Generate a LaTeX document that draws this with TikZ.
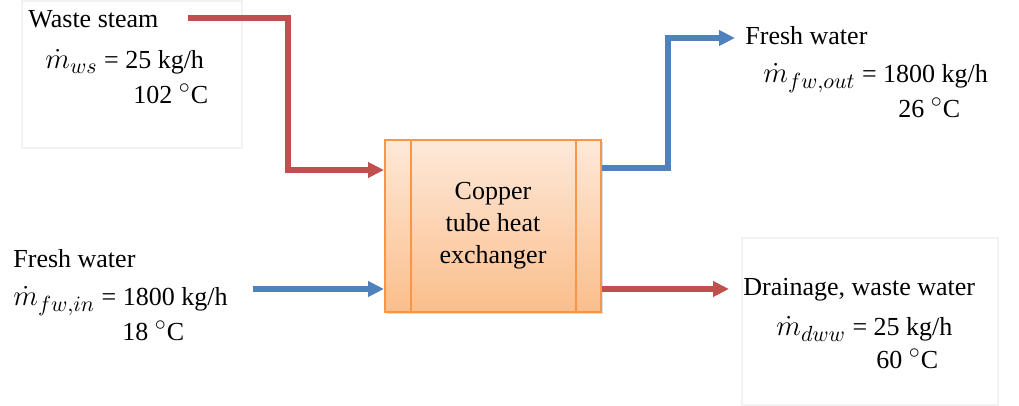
\documentclass[tikz,border=0pt]{standalone}
\usepackage{fontspec}
\setmainfont{Liberation Serif}
\DeclareMathSizes{13}{13.5}{10.5}{8}
\usetikzlibrary{arrows.meta,shadows}
\definecolor{steamred}{HTML}{C0504D}
\definecolor{waterblue}{HTML}{4F81BD}
\definecolor{hxedge}{HTML}{F79646}
\definecolor{hxtop}{HTML}{FDE9DA}
\definecolor{hxbot}{HTML}{FBBE8C}
\definecolor{frame}{HTML}{F2F2F2}
\tikzset{
  pipe/.style={line width=2.6pt,-{Triangle[length=8pt,width=7.5pt]}},
  hot/.style={pipe,draw=steamred},
  cold/.style={pipe,draw=waterblue},
  lbl/.style={anchor=base west,inner sep=0pt,font=\fontsize{13pt}{15pt}\selectfont},
  labelframe/.style={draw=frame,line width=0.6pt},
}
\newcommand{\flowrate}[2]{$\dot{m}_{#1}$ = #2 kg/h}
\begin{document}
\begin{tikzpicture}[x=0.5pt,y=-0.5pt]
\useasboundingbox (0,0) rectangle (1019,406);

% faint frames behind two of the stream labels
\draw[labelframe] (22,1) rectangle (242,148);
\draw[labelframe] (742,238) rectangle (998,405);

% heat exchanger
\node (hx) [draw=hxedge,line width=1pt,top color=hxtop,bottom color=hxbot,
  minimum width=108pt,minimum height=86pt,inner sep=0pt,
  drop shadow={opacity=0.25,shadow xshift=1pt,shadow yshift=-1pt},
  align=center,font=\fontsize{13pt}{16pt}\selectfont]
  at (493,226) {Copper\\tube heat\\exchanger};
\draw[hxedge,line width=1pt] ([xshift=13.5pt]hx.north west) -- ([xshift=13.5pt]hx.south west);
\draw[hxedge,line width=1pt] ([xshift=-13pt]hx.north east) -- ([xshift=-13pt]hx.south east);

% stream ends
\coordinate (wsin) at (188,18);
\coordinate (fwin) at (253,289);
\coordinate (fwout) at (735,38);
\coordinate (dwout) at (729,289);

% waste steam in
\draw[hot] (wsin) -| (288,170) -- (hx.west |- 0,170);
% fresh water in
\draw[cold] (fwin) -- (hx.west |- fwin);
% fresh water out
\draw[cold] (hx.east |- 0,168) -| (668,38) -- (fwout);
% drainage out
\draw[hot] (hx.east |- dwout) -- (dwout);

% labels
\node (t1) [lbl] at (28,28) {Waste steam};
\node (t2) [lbl] at (45,69) {\flowrate{ws}{25}};
\node (t3) [lbl] at (133,104) {102 $^{\circ}$C};

\node (t4) [lbl] at (13,268) {Fresh water};
\node (t5) [lbl] at (13,306) {\flowrate{fw,in}{1800}};
\node (t6) [lbl] at (122,341) {18 $^{\circ}$C};

\node (t7) [lbl] at (745,45) {Fresh water};
\node (t8) [lbl] at (763,83) {\flowrate{fw,out}{1800}};
\node (t9) [lbl] at (898,118) {26 $^{\circ}$C};

\node (t10) [lbl] at (743,296) {Drainage, waste water};
\node (t11) [lbl] at (776,336) {\flowrate{dww}{25}};
\node (t12) [lbl] at (876,369) {60 $^{\circ}$C};
\end{tikzpicture}
\end{document}
